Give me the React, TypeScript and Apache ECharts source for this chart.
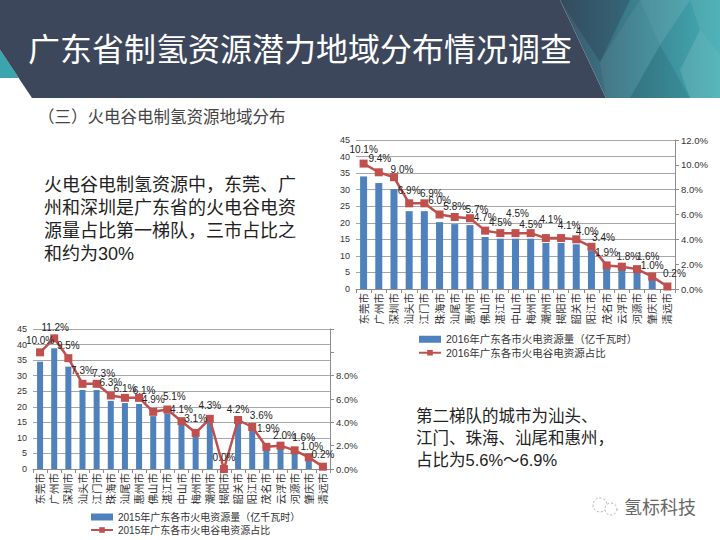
import React, { useEffect, useRef } from "react";
import * as echarts from "echarts";

const cities = ["东莞市", "广州市", "深圳市", "汕头市", "江门市", "珠海市", "汕尾市", "惠州市", "佛山市", "湛江市", "中山市", "梅州市", "潮州市", "揭阳市", "韶关市", "阳江市", "茂名市", "云浮市", "河源市", "肇庆市", "清远市"];

const energy2016 = [34.0, 32.0, 30.2, 23.5, 23.5, 20.2, 19.6, 19.3, 15.7, 15.2, 15.2, 15.2, 13.9, 13.9, 13.5, 11.6, 6.4, 6.1, 5.4, 3.4, 0.7];
const share2016 = [10.1, 9.4, 9.0, 6.9, 6.9, 6.0, 5.8, 5.7, 4.7, 4.5, 4.5, 4.5, 4.1, 4.1, 4.0, 3.4, 1.9, 1.8, 1.6, 1.0, 0.2];

const energy2015 = [34.5, 38.8, 32.9, 25.4, 25.4, 21.9, 21.2, 20.9, 17.0, 17.9, 14.3, 10.7, 14.8, 0, 14.5, 12.4, 6.6, 6.9, 5.5, 3.5, 0.7];
const share2015 = [10.0, 11.2, 9.5, 7.3, 7.3, 6.3, 6.1, 6.1, 4.9, 5.1, 4.1, 3.1, 4.3, 0.0, 4.2, 3.6, 1.9, 2.0, 1.6, 1.0, 0.2];

const leftTicks = { min: 0, max: 45, interval: 5 };
const rightTicks = { min: 0, max: 12, interval: 2 };

const labelOffsets2016 = [[0, 0], [1, 0], [8, 6], [0, 1], [7, 4], [0, 0], [0, 4], [7, 5], [0, 1], [0, 3], [2, -6], [0, 5], [5, -5], [8, 1], [11, 6], [12, 5], [0, 1], [6, 4], [11, 1], [0, 3], [7, 1]];
const labelOffsets2015 = [[0, 2], [1, 3], [0, 1], [0, 1], [7, 4], [0, 1], [0, 5], [5, 7], [0, 2], [7, 1], [0, 2], [0, 0], [0, 1], [0, 2], [0, 3], [9, 2], [2, -4], [4, 4], [9, 1], [3, 3], [0, 2]];

const name16Bar = "2016年广东各市火电资源量（亿千瓦时）";
const name16Line = "2016年广东各市火电谷电资源占比";
const name15Bar = "2015年广东各市火电资源量（亿千瓦时）";
const name15Line = "2015年广东各市火电谷电资源占比";

const titleText = "广东省制氢资源潜力地域分布情况调查";
const subtitleText = "（三）火电谷电制氢资源地域分布";
const para1 = ["火电谷电制氢资源中，东莞、广", "州和深圳是广东省的火电谷电资", "源量占比第一梯队，三市占比之", "和约为30%"];
const para2 = ["第二梯队的城市为汕头、", "江门、珠海、汕尾和惠州，", "占比为5.6%～6.9%"];
const brandText = "氢标科技";

const BLUE = "#4F81BD";
const RED = "#C0504D";
const FONT = "Liberation Sans, Noto Sans CJK SC, sans-serif";

export default function App() {
  const ref = useRef<HTMLDivElement>(null);
  useEffect(() => {
    document.body.style.margin = "0";
    const chart = echarts.init(ref.current as HTMLDivElement, null, { renderer: "svg" });

    const xAxisBase = (gridIndex: number) => ({
      type: "category",
      gridIndex,
      data: cities,
      boundaryGap: true,
      axisLine: { show: true, lineStyle: { color: "#8c8c8c", width: 1 } },
      axisTick: { show: true, interval: 0, length: 4, lineStyle: { color: "#8c8c8c" } },
      axisLabel: { interval: 0, rotate: 90, fontSize: 10.5, color: "#333", margin: 4, fontFamily: FONT },
    });
    const leftAxis = (gridIndex: number) => ({
      type: "value",
      gridIndex,
      ...leftTicks,
      axisLine: { show: false },
      axisTick: { show: false },
      axisLabel: { fontSize: 9, color: "#333", margin: 6, fontFamily: FONT },
      splitLine: { show: true, lineStyle: { color: "#a6a6a6", width: 1 } },
    });
    const rightAxis = (gridIndex: number, maxLabel: number) => ({
      type: "value",
      gridIndex,
      position: "right",
      ...rightTicks,
      axisLine: { show: true, lineStyle: { color: "#8c8c8c", width: 1 } },
      axisTick: { show: true, length: 4, lineStyle: { color: "#8c8c8c" } },
      axisLabel: {
        fontSize: 9.5,
        color: "#333",
        margin: 6,
        fontFamily: FONT,
        formatter: (v: number) => (v <= maxLabel ? v.toFixed(1) + "%" : ""),
      },
      splitLine: { show: false },
    });

    const lineData = (vals: number[], offs: number[][]) =>
      vals.map((v, i) => ({ value: v, label: { offset: offs[i] } }));

    const lineSeries = (name: string, xi: number, yi: number, vals: number[], offs: number[][]) => ({
      name,
      type: "line",
      xAxisIndex: xi,
      yAxisIndex: yi,
      data: lineData(vals, offs),
      symbol: "rect",
      symbolSize: 8,
      lineStyle: { color: RED, width: 2.5 },
      itemStyle: { color: RED },
      label: {
        show: true,
        position: "top",
        distance: 5,
        fontSize: 10,
        color: "#222",
        fontFamily: FONT,
        formatter: (p: any) => Number(p.value).toFixed(1) + "%",
      },
      z: 3,
    });

    const graphic: any[] = [
      {
        type: "polygon",
        shape: { points: [[0, 0], [560, 0], [606, 98], [32, 98], [0, 50]] },
        style: { fill: "#3D475B" },
        z: 0,
      },
      {
        type: "polygon",
        shape: { points: [[0, 50], [0, 78], [19, 78]] },
        style: { fill: "#3AA5AD" },
        z: 0,
      },
      {
        type: "polygon",
        shape: { points: [[560, 0], [720, 0], [720, 98], [606, 98]] },
        style: {
          fill: new echarts.graphic.LinearGradient(0, 0, 1, 0, [
            { offset: 0, color: "#3C566A" },
            { offset: 0.45, color: "#3B7E8D" },
            { offset: 1, color: "#41ADB3" },
          ]),
        },
        z: 0,
      },
      { type: "polygon", shape: { points: [[560, 0], [630, 0], [600, 62]] }, style: { fill: "rgba(30,40,60,0.25)" }, z: 1 },
      { type: "polygon", shape: { points: [[600, 62], [640, 0], [660, 45], [630, 98], [606, 98]] }, style: { fill: "rgba(255,255,255,0.06)" }, z: 1 },
      { type: "polygon", shape: { points: [[640, 0], [690, 0], [660, 45]] }, style: { fill: "rgba(255,255,255,0.1)" }, z: 1 },
      { type: "polygon", shape: { points: [[660, 45], [690, 98], [630, 98]] }, style: { fill: "rgba(20,40,60,0.12)" }, z: 1 },
      { type: "polygon", shape: { points: [[690, 0], [720, 0], [720, 55], [700, 30]] }, style: { fill: "rgba(255,255,255,0.08)" }, z: 1 },
      { type: "polygon", shape: { points: [[700, 30], [720, 55], [720, 98], [690, 98], [680, 70]] }, style: { fill: "rgba(255,255,255,0.12)" }, z: 1 },
      {
        type: "text",
        left: 28,
        top: 31,
        style: { text: titleText, fill: "#ffffff", font: "normal 32px Noto Sans CJK SC, sans-serif" },
        z: 2,
      },
      {
        type: "text",
        left: 38,
        top: 108,
        style: { text: subtitleText, fill: "#444", font: "normal 16.5px Noto Sans CJK SC, serif" },
        z: 2,
      },
      ...para1.map((t, i) => ({
        type: "text",
        left: 44,
        top: 176 + i * 23,
        style: { text: t, fill: "#222", font: "normal 18px Liberation Sans, Noto Sans CJK SC, sans-serif" },
        z: 2,
      })),
      ...para2.map((t, i) => ({
        type: "text",
        left: 416,
        top: 408 + i * 22,
        style: { text: t, fill: "#222", font: "normal 16.5px Liberation Sans, Noto Sans CJK SC, sans-serif" },
        z: 2,
      })),
      { type: "circle", shape: { cx: 600, cy: 505, r: 7 }, style: { fill: "none", stroke: "#aaa", lineWidth: 1, lineDash: [2, 2] }, z: 2 },
      { type: "circle", shape: { cx: 611, cy: 509, r: 6 }, style: { fill: "#fff", stroke: "#aaa", lineWidth: 1, lineDash: [2, 2] }, z: 2 },
      {
        type: "text",
        left: 624,
        top: 497,
        style: { text: brandText, fill: "#666", font: "normal 18px Noto Sans CJK SC, sans-serif" },
        z: 2,
      },
    ];

    chart.setOption({
      animation: false,
      backgroundColor: "#ffffff",
      textStyle: { fontFamily: FONT },
      grid: [
        { left: 356, right: 45, top: 140, height: 149, containLabel: false },
        { left: 33, right: 390, top: 329, height: 140, containLabel: false },
      ],
      xAxis: [xAxisBase(0), xAxisBase(1)],
      yAxis: [leftAxis(0), rightAxis(0, 12), leftAxis(1), rightAxis(1, 8)],
      legend: [
        {
          orient: "vertical",
          left: 418,
          top: 334,
          itemGap: 3,
          itemWidth: 22,
          itemHeight: 7,
          data: [{ name: name16Bar, icon: "rect" }, { name: name16Line }],
          textStyle: { fontSize: 10.5, color: "#333", fontFamily: FONT },
          padding: 0,
        },
        {
          orient: "vertical",
          left: 90,
          top: 512,
          itemGap: 3,
          itemWidth: 22,
          itemHeight: 7,
          data: [{ name: name15Bar, icon: "rect" }, { name: name15Line }],
          textStyle: { fontSize: 10, color: "#333", fontFamily: FONT },
          padding: 0,
        },
      ],
      series: [
        {
          name: name16Bar,
          type: "bar",
          xAxisIndex: 0,
          yAxisIndex: 0,
          data: energy2016,
          barWidth: 7,
          itemStyle: { color: BLUE },
          z: 2,
        },
        lineSeries(name16Line, 0, 1, share2016, labelOffsets2016),
        {
          name: name15Bar,
          type: "bar",
          xAxisIndex: 1,
          yAxisIndex: 2,
          data: energy2015,
          barWidth: 6,
          itemStyle: { color: BLUE },
          z: 2,
        },
        lineSeries(name15Line, 1, 3, share2015, labelOffsets2015),
      ],
      graphic,
    });
    return () => chart.dispose();
  }, []);
  return <div ref={ref} style={{ position: "fixed", left: 0, top: 0, width: 720, height: 540 }} />;
}
